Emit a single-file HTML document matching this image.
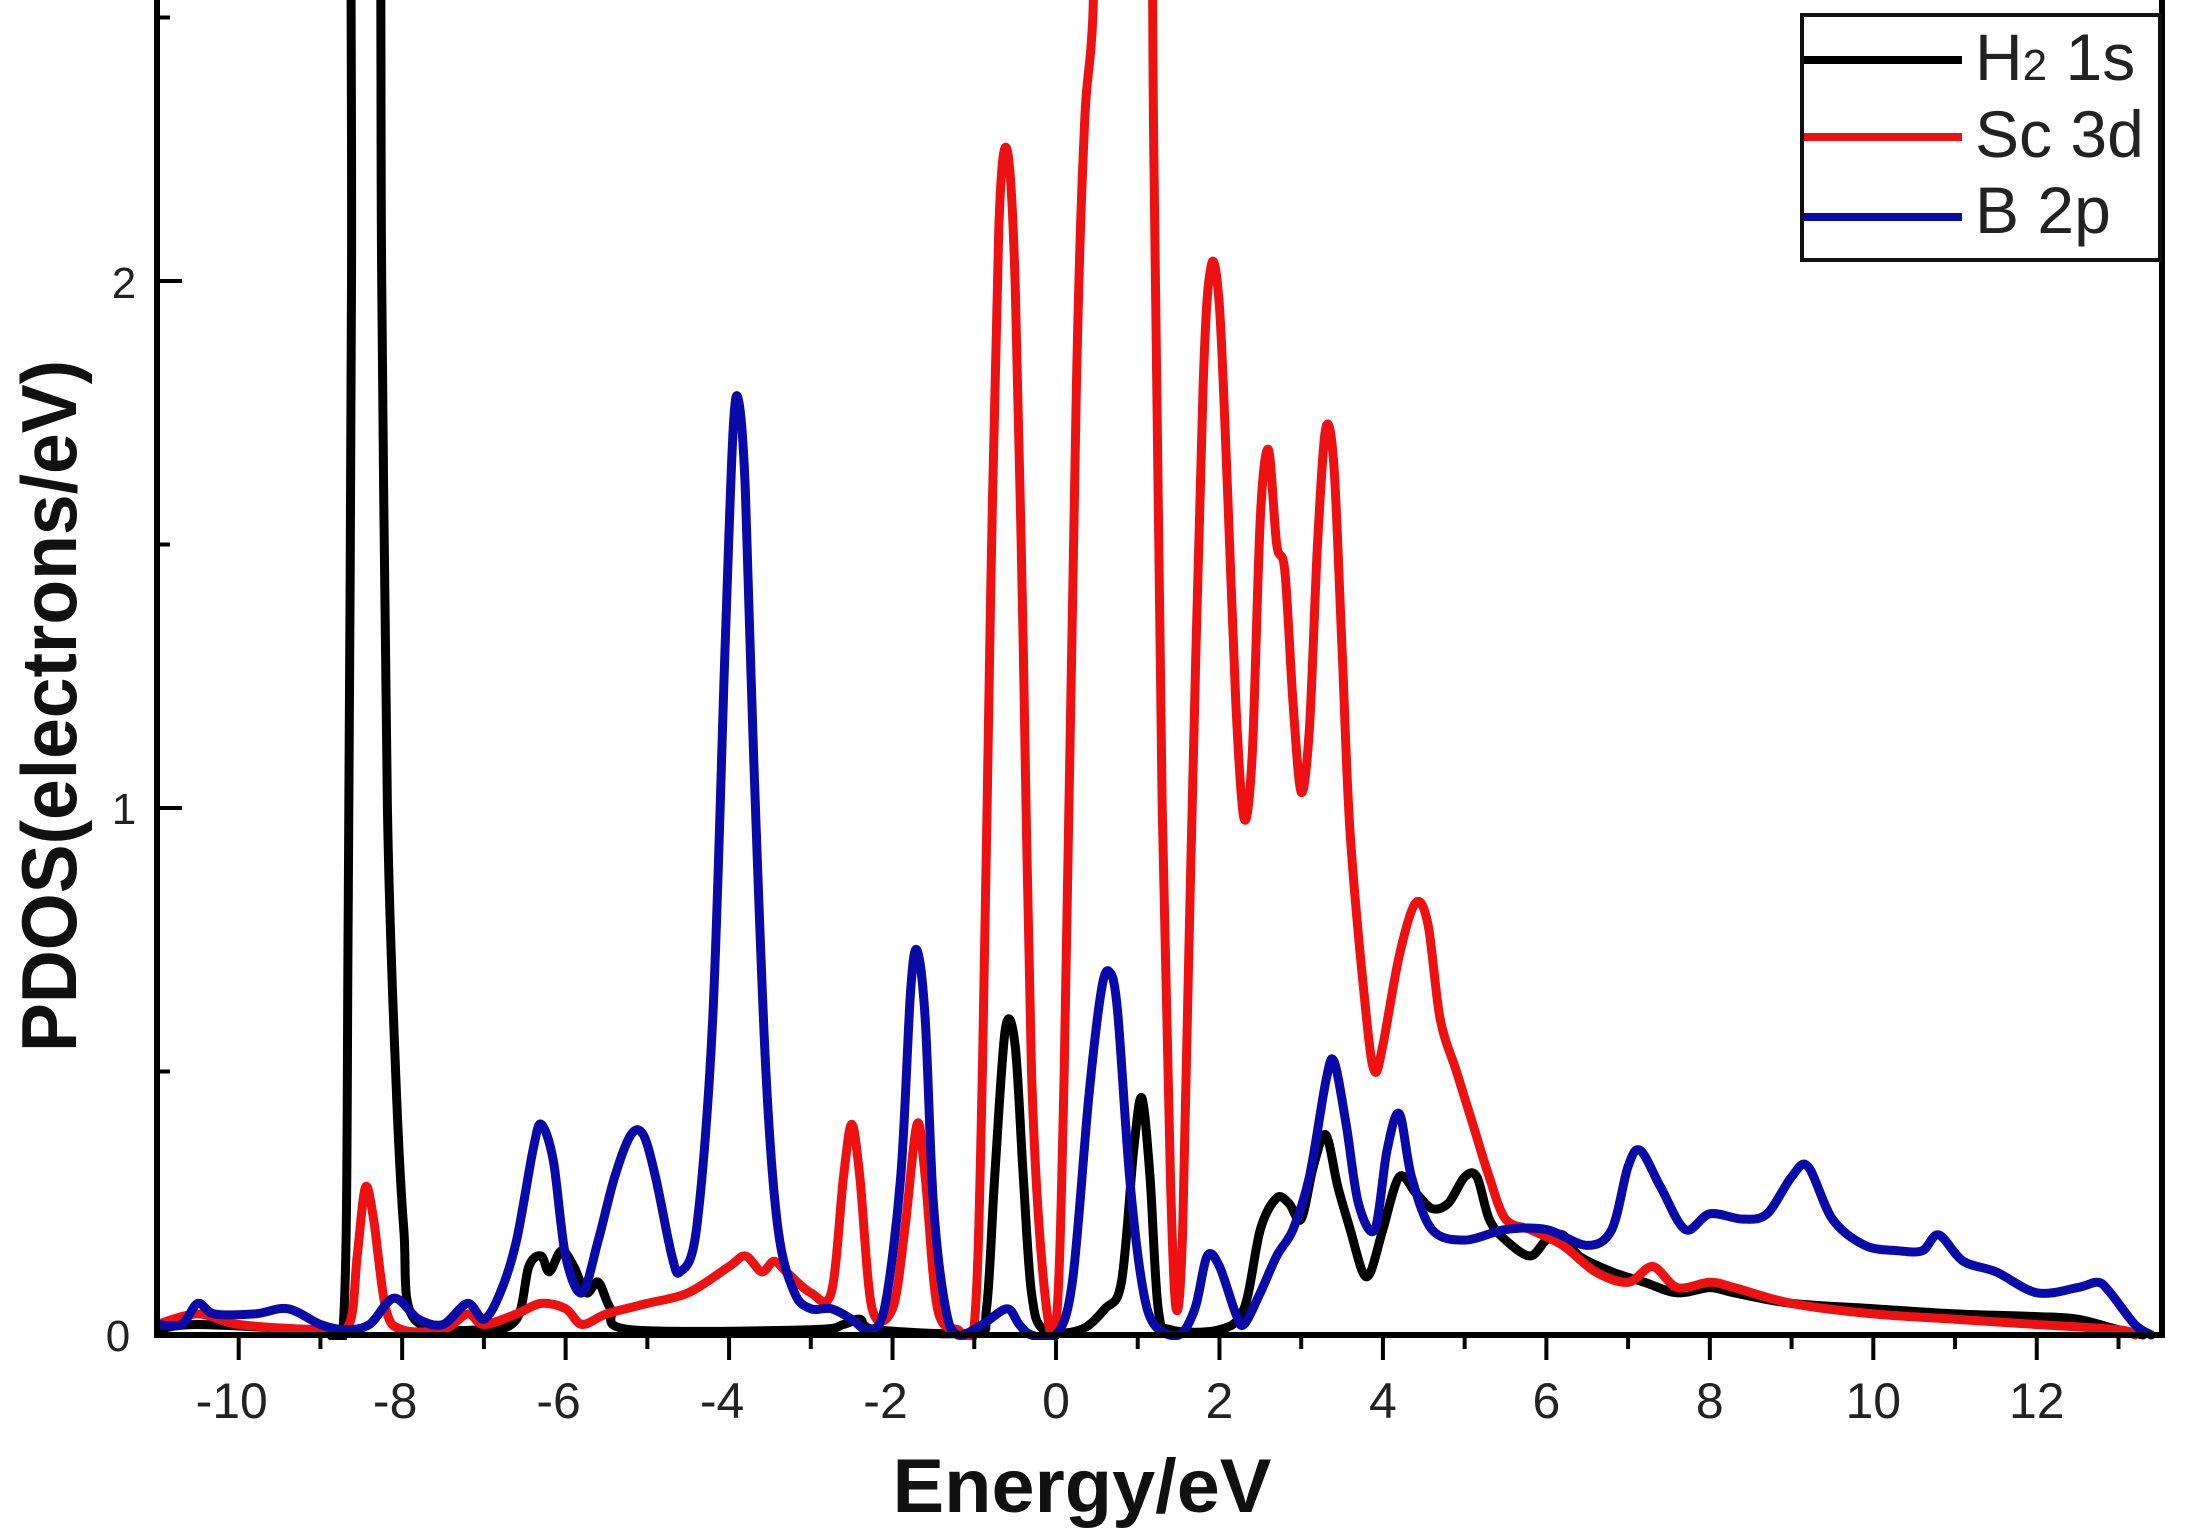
<!DOCTYPE html>
<html><head><meta charset="utf-8"><style>
html,body{margin:0;padding:0;background:#fff;}
svg{display:block;}
</style></head><body>
<svg id="s" width="2185" height="1540" viewBox="0 0 2185 1540" xmlns="http://www.w3.org/2000/svg">
<defs><clipPath id="c"><rect x="157" y="0" width="2005" height="1340"/></clipPath></defs>
<g id="curves" clip-path="url(#c)" fill="none" stroke-width="9" stroke-linejoin="round" stroke-linecap="round"></g>
<g id="axes" stroke="#000" fill="none"></g>
<g font-family="Liberation Sans, sans-serif" fill="#222">
<g font-size="50" text-anchor="middle" id="xl"></g>
<text x="124" y="298" font-size="44" text-anchor="middle">2</text>
<text x="124" y="824" font-size="44" text-anchor="middle">1</text>
<text x="118" y="1351" font-size="44" text-anchor="middle">0</text>
<text x="1082" y="1512" font-size="76" font-weight="bold" text-anchor="middle" textLength="379" lengthAdjust="spacingAndGlyphs" fill="#111">Energy/eV</text>
<text transform="translate(76,706) rotate(-90)" x="0" y="0" font-size="78" font-weight="bold" text-anchor="middle" textLength="692" lengthAdjust="spacingAndGlyphs" fill="#111">PDOS(electrons/eV)</text>
</g>
<rect x="1802" y="15" width="358" height="245" fill="#fff" stroke="#111" stroke-width="4"/>
<line x1="1804" y1="60" x2="1962" y2="60" stroke="#000" stroke-width="8"/>
<line x1="1804" y1="137" x2="1962" y2="137" stroke="#ee1111" stroke-width="8"/>
<line x1="1804" y1="217" x2="1962" y2="217" stroke="#0a0aa8" stroke-width="8"/>
<g font-family="Liberation Sans, sans-serif" font-size="66" fill="#222">
<text x="1975" y="80">H<tspan font-size="44">2</tspan> 1s</text>
<text x="1975" y="157">Sc 3d</text>
<text x="1975" y="233">B  2p</text>
</g>
</svg>
<script>
const X0=1056,UX=81.73,Y0=1335,UY=527;
const px=x=>X0+x*UX, py=y=>Y0-y*UY;
function parse(s){return s.split(';').map(t=>t.trim()).filter(t=>t).map(t=>t.split(',').map(Number));}
function path(pts){
 const P=pts.map(p=>[px(p[0]),py(p[1])]);
 let d='M'+P[0][0].toFixed(1)+','+P[0][1].toFixed(1);
 for(let i=0;i<P.length-1;i++){
  const p0=P[i-1]||P[i],p1=P[i],p2=P[i+1],p3=P[i+2]||P[i+1];
  const t=0.16;
  const c1=[p1[0]+(p2[0]-p0[0])*t,p1[1]+(p2[1]-p0[1])*t];
  const c2=[p2[0]-(p3[0]-p1[0])*t,p2[1]-(p3[1]-p1[1])*t];
  d+='C'+c1.map(v=>v.toFixed(1))+' '+c2.map(v=>v.toFixed(1))+' '+p2[0].toFixed(1)+','+p2[1].toFixed(1);
 }
 return d;
}
const black=parse("-11,0.01;-10.5,0.02;-9,0.01;-8.72,0.02;-8.66,0.8;-8.62,2;-8.6,3;-8.3,3;-8.25,2;-8.18,1.0;-8.08,0.5;-7.98,0.2;-7.85,0.03;-7,0.01;-6.6,0.03;-6.45,0.13;-6.3,0.15;-6.2,0.12;-6.05,0.16;-5.9,0.13;-5.75,0.08;-5.6,0.1;-5.45,0.05;-5.2,0.01;-3,0.01;-2.6,0.02;-2.4,0.03;-2.2,0.01;-1,0.005;-0.85,0.05;-0.75,0.3;-0.62,0.58;-0.5,0.55;-0.4,0.3;-0.3,0.08;-0.15,0.01;0.3,0.01;0.6,0.05;0.8,0.1;0.95,0.35;1.05,0.45;1.15,0.3;1.25,0.05;1.4,0.01;2.0,0.01;2.3,0.05;2.5,0.2;2.7,0.26;2.85,0.25;3.0,0.22;3.15,0.32;3.3,0.38;3.45,0.28;3.6,0.2;3.75,0.12;3.85,0.12;4.0,0.2;4.2,0.3;4.4,0.27;4.6,0.24;4.8,0.25;5.0,0.3;5.15,0.3;5.3,0.22;5.5,0.18;5.8,0.15;6.0,0.18;6.2,0.19;6.4,0.15;6.8,0.12;7.2,0.1;7.6,0.08;8.0,0.09;8.3,0.08;9,0.06;10,0.05;11,0.04;12,0.035;12.5,0.03;13,0.01;13.3,0");
const red=parse("-11,0.02;-10.5,0.04;-10,0.02;-9,0.01;-8.65,0.02;-8.55,0.15;-8.45,0.28;-8.35,0.22;-8.2,0.05;-8,0.01;-7.5,0.01;-7.2,0.04;-7.0,0.02;-6.6,0.04;-6.3,0.06;-6.0,0.05;-5.8,0.02;-5.5,0.04;-5,0.06;-4.5,0.08;-4.0,0.13;-3.8,0.15;-3.6,0.12;-3.45,0.14;-3.3,0.12;-3.0,0.08;-2.75,0.08;-2.6,0.3;-2.5,0.4;-2.4,0.3;-2.25,0.05;-2.0,0.05;-1.85,0.2;-1.7,0.4;-1.6,0.3;-1.45,0.05;-1.2,0.01;-1.0,0.02;-0.9,0.5;-0.8,1.4;-0.7,2.1;-0.6,2.25;-0.5,2.0;-0.4,1.3;-0.3,0.5;-0.15,0.1;0,0.02;0.1,0.5;0.25,1.8;0.35,2.3;0.45,2.5;0.55,3;1.1,3;1.2,2.2;1.3,1.0;1.4,0.3;1.47,0.05;1.55,0.2;1.65,0.9;1.8,1.8;1.9,2.03;2.0,1.95;2.1,1.6;2.2,1.2;2.3,0.98;2.4,1.1;2.5,1.55;2.6,1.68;2.7,1.5;2.8,1.45;2.9,1.2;3.0,1.03;3.1,1.15;3.2,1.5;3.3,1.72;3.4,1.65;3.5,1.3;3.6,0.95;3.8,0.6;3.9,0.5;4.0,0.55;4.2,0.72;4.4,0.82;4.55,0.78;4.7,0.6;4.9,0.5;5.1,0.4;5.3,0.3;5.5,0.22;5.8,0.2;6.2,0.17;6.6,0.12;7.0,0.1;7.3,0.13;7.6,0.09;8.0,0.1;8.3,0.09;9.0,0.06;10,0.04;11,0.03;12,0.02;13,0.01;13.2,0");
const blue=parse("-11,0.02;-10.7,0.02;-10.5,0.06;-10.3,0.04;-9.8,0.04;-9.4,0.05;-9.0,0.02;-8.7,0.01;-8.4,0.02;-8.1,0.07;-7.8,0.03;-7.5,0.02;-7.2,0.06;-7.0,0.03;-6.8,0.08;-6.6,0.18;-6.4,0.35;-6.3,0.4;-6.15,0.33;-6.0,0.15;-5.8,0.08;-5.6,0.18;-5.4,0.3;-5.2,0.38;-5.05,0.38;-4.9,0.3;-4.7,0.15;-4.6,0.12;-4.4,0.2;-4.2,0.6;-4.05,1.3;-3.95,1.72;-3.88,1.77;-3.8,1.6;-3.7,1.1;-3.55,0.5;-3.4,0.2;-3.2,0.08;-3.0,0.05;-2.75,0.05;-2.5,0.03;-2.3,0.01;-2.1,0.05;-1.9,0.3;-1.78,0.65;-1.7,0.73;-1.6,0.6;-1.5,0.25;-1.35,0.05;-1.2,0.0;-0.9,0.02;-0.6,0.05;-0.45,0.02;-0.3,0.0;0,0.0;0.2,0.1;0.4,0.45;0.55,0.65;0.65,0.69;0.75,0.62;0.9,0.3;1.05,0.1;1.2,0.02;1.5,0.0;1.7,0.05;1.85,0.15;2.0,0.13;2.2,0.04;2.3,0.02;2.5,0.08;2.7,0.15;2.9,0.2;3.1,0.3;3.3,0.48;3.4,0.52;3.55,0.4;3.7,0.25;3.9,0.2;4.05,0.35;4.2,0.42;4.35,0.3;4.6,0.2;5.0,0.18;5.5,0.2;6.0,0.2;6.5,0.17;6.8,0.2;7.0,0.32;7.15,0.35;7.4,0.28;7.7,0.2;8.0,0.23;8.4,0.22;8.7,0.23;9.0,0.3;9.2,0.32;9.5,0.22;9.9,0.17;10.3,0.16;10.6,0.16;10.8,0.19;11.1,0.14;11.5,0.12;12,0.08;12.5,0.09;12.75,0.1;12.9,0.08;13.2,0.02;13.4,0");
const NS='http://www.w3.org/2000/svg';
const g=document.getElementById('curves');
[[black,'#000'],[red,'#ee1111'],[blue,'#0a0aa8']].forEach(([d,c])=>{
 const p=document.createElementNS(NS,'path');p.setAttribute('d',path(d));p.setAttribute('stroke',c);g.appendChild(p);});
const ax=document.getElementById('axes');
function ln(x1,y1,x2,y2,w){const l=document.createElementNS(NS,'line');l.setAttribute('x1',x1);l.setAttribute('y1',y1);l.setAttribute('x2',x2);l.setAttribute('y2',y2);l.setAttribute('stroke-width',w);ax.appendChild(l);}
ln(157,0,157,1338,6);ln(154,1335,2165,1335,6);ln(2162,0,2162,1338,6);
for(let x=-10;x<=13;x++){ln(px(x),1335,px(x),1335+(x%2===0?25:14),4);}
for(let y=0.5;y<=2.5;y+=0.5){ln(157,py(y),157+(Number.isInteger(y)?25:13),py(y),4);}
const xl=document.getElementById('xl');
for(let x=-10;x<=12;x+=2){const t=document.createElementNS(NS,'text');t.setAttribute('x',px(x)-(x<0?7:0));t.setAttribute('y',1418);t.textContent=(x<0?'-':'')+Math.abs(x);xl.appendChild(t);}
</script>
</body></html>
